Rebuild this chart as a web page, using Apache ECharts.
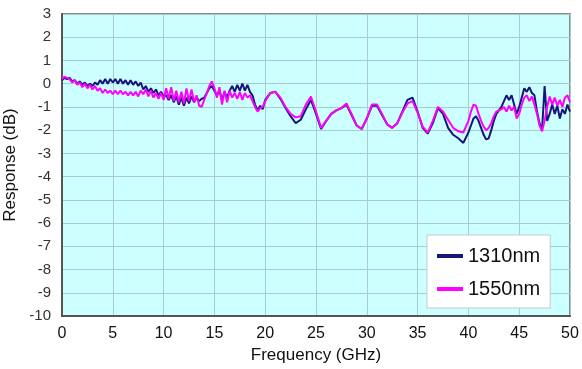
<!DOCTYPE html>
<html>
<head>
<meta charset="utf-8">
<script src="https://cdn.jsdelivr.net/npm/echarts@6/dist/echarts.min.js"></script>
<style>
  html, body { margin: 0; padding: 0; background: #fff; }
  #chart { width: 582px; height: 369px; }
</style>
</head>
<body>
<div id="chart"></div>
<script>
// frequency points (GHz)
const freq = [
  0, 0.25, 0.5, 0.75, 1, 1.25, 1.5, 1.75, 2, 2.25, 2.5, 2.75, 3, 3.25, 3.5, 3.75, 4, 4.25, 4.5, 4.75,
  5, 5.25, 5.5, 5.75, 6, 6.25, 6.5, 6.75, 7, 7.25, 7.5, 7.75, 8, 8.25, 8.5, 8.75, 9, 9.25, 9.5, 9.75,
  10, 10.25, 10.5, 10.75, 11, 11.25, 11.5, 11.75, 12, 12.25, 12.5, 12.75, 13, 13.25, 13.5, 13.75, 14, 14.25, 14.5, 14.75,
  15, 15.25, 15.5, 15.75, 16, 16.25, 16.5, 16.75, 17, 17.25, 17.5, 17.75, 18, 18.25, 18.5, 18.75, 19, 19.25, 19.5, 19.75,
  20, 20.5, 21, 21.5, 22, 22.5, 23, 23.5, 24, 24.5, 25, 25.5, 26, 26.5, 27, 27.5, 28, 28.5, 29, 29.5,
  30, 30.5, 31, 31.5, 32, 32.5, 33, 33.5, 34, 34.5, 35, 35.5, 36, 36.5, 37, 37.5, 38, 38.5, 39, 39.5,
  40, 40.25, 40.5, 40.75, 41, 41.25, 41.5, 41.75, 42, 42.25, 42.5, 42.75, 43, 43.25, 43.5, 43.75, 44, 44.25, 44.5, 44.75,
  45, 45.25, 45.5, 45.75, 46, 46.25, 46.5, 46.75, 47, 47.25, 47.5, 47.75, 48, 48.25, 48.5, 48.75, 49, 49.25, 49.5, 49.75,
  50
];

// response at 1310nm (dB)
const resp1310 = [
  0.15, 0.25, 0.2, 0.25, 0.1, 0.15, 0.0, 0.1, -0.05, 0.05, -0.1, 0.0, -0.1, 0.05, -0.05, 0.15, 0.0, 0.2, 0.0, 0.2,
  0.05, 0.2, 0.0, 0.2, 0.0, 0.15, -0.05, 0.15, -0.05, 0.1, -0.1, 0.05, -0.25, -0.1, -0.35, -0.2, -0.4, -0.25, -0.5, -0.35,
  -0.55, -0.5, -0.7, -0.5, -0.8, -0.55, -0.9, -0.6, -0.95, -0.6, -0.85, -0.55, -0.8, -0.6, -0.75, -0.65, -0.6, -0.4, -0.2, -0.1,
  -0.3, -0.5, -0.3, -0.7, -0.35, -0.6, -0.3, -0.1, -0.35, -0.05, -0.3, 0.0, -0.3, -0.05, -0.35, -0.5, -0.9, -1.15, -0.95, -1.1,
  -0.7, -0.4, -0.35, -0.65, -1.05, -1.4, -1.7, -1.55, -1.1, -0.7, -1.3, -1.95, -1.6, -1.3, -1.15, -1.05, -0.9, -1.35, -1.8, -1.95,
  -1.5, -0.95, -0.95, -1.35, -1.75, -1.9, -1.7, -1.2, -0.7, -0.6, -1.2, -1.9, -2.15, -1.7, -1.05, -1.3, -1.9, -2.2, -2.35, -2.55,
  -2.1, -1.8, -1.5, -1.4, -1.6, -1.9, -2.2, -2.4, -2.35, -2.0, -1.6, -1.3, -1.15, -1.0, -0.75, -0.5, -0.7, -0.5, -0.9, -1.3,
  -1.0, -0.6, -0.2, -0.35, -0.15, -0.4, -0.5, -1.2, -1.7, -2.0, -0.1, -1.6, -1.3, -0.9, -1.3, -0.95, -1.5, -1.1, -1.3, -0.9,
  -1.2
];

// response at 1550nm (dB)
const resp1550 = [
  0.2, 0.3, 0.25, 0.2, 0.05, 0.15, -0.05, 0.05, -0.15, 0.0, -0.2, -0.05, -0.25, -0.1, -0.3, -0.2, -0.4, -0.25, -0.4, -0.3,
  -0.45, -0.3, -0.45, -0.3, -0.45, -0.35, -0.5, -0.35, -0.5, -0.35, -0.55, -0.3, -0.45, -0.25, -0.55, -0.3, -0.6, -0.4, -0.65, -0.4,
  -0.7, -0.2, -0.65, -0.15, -0.75, -0.3, -0.8, -0.35, -0.85, -0.2, -0.75, -0.25, -0.8, -0.5, -0.95, -1.0, -0.7, -0.4, -0.1, 0.1,
  -0.2, -0.6, -0.15, -0.9, -0.3, -0.8, -0.3, -0.6, -0.4, -0.65, -0.35, -0.7, -0.4, -0.6, -0.5, -0.75, -1.0, -1.2, -1.05, -1.0,
  -0.75, -0.4, -0.35, -0.6, -1.0, -1.3, -1.45, -1.4, -0.9, -0.55, -1.2, -1.9, -1.6, -1.3, -1.15, -1.05, -0.85, -1.3, -1.8, -1.95,
  -1.5, -0.9, -0.9, -1.3, -1.75, -1.9, -1.7, -1.25, -0.85, -0.75, -1.25, -1.85, -2.1, -1.6, -1.0, -1.2, -1.55, -1.9, -2.05, -2.1,
  -1.6, -1.2, -0.9, -0.95, -1.3, -1.6, -1.85, -2.0, -1.9, -1.7, -1.4, -1.2, -1.15, -1.1, -1.0, -1.2, -0.95, -1.15, -1.0, -1.5,
  -1.3, -0.9, -0.6, -0.5, -0.75, -0.55, -0.9, -1.3, -1.8, -2.05, -1.6, -1.0, -0.55, -0.9, -0.6, -0.95, -0.7, -1.0, -0.6, -0.5,
  -0.8
];

const seriesNames = ["1310nm", "1550nm"];
const seriesColors = ["#16167a", "#ff00ff"];

const chart = echarts.init(document.getElementById("chart"));

function pairs(values) {
  return freq.map((f, i) => [f, values[i]]);
}

const axisNameStyle = {
  color: "#111",
  fontSize: 17,
  fontFamily: "Liberation Sans, Arial, sans-serif",
};

const option = {
  animation: false,
  backgroundColor: "#fff",
  grid: {
    left: 62,
    right: 12,
    top: 14,
    bottom: 53,
    outerBoundsMode: "none",
    containLabel: false,
    show: true,
    backgroundColor: "#ccffff",
    borderColor: "#8a8a8a",
    borderWidth: 2,
  },
  xAxis: {
    type: "value",
    min: 0,
    max: 50,
    interval: 5,
    name: "Frequency (GHz)",
    nameLocation: "middle",
    nameGap: 30,
    nameTextStyle: axisNameStyle,
    axisLine: { onZero: false, lineStyle: { color: "#555", width: 2 } },
    axisTick: { show: false },
    axisLabel: {
      color: "#111",
      fontSize: 16,
      fontFamily: "Liberation Sans, Arial, sans-serif",
      margin: 10,
    },
    splitLine: { lineStyle: { color: "#a9cccc", width: 1 } },
  },
  yAxis: {
    type: "value",
    min: -10,
    max: 3,
    interval: 1,
    name: "Response (dB)",
    nameLocation: "middle",
    nameGap: 36,
    nameTextStyle: axisNameStyle,
    axisLine: { lineStyle: { color: "#555", width: 2 } },
    axisTick: { show: false },
    axisLabel: {
      color: "#333",
      fontSize: 15,
      fontFamily: "Liberation Sans, Arial, sans-serif",
      margin: 11,
    },
    splitLine: { lineStyle: { color: "#a9cccc", width: 1 } },
  },
  legend: {
    data: seriesNames,
    orient: "vertical",
    left: 427,
    top: 235,
    padding: [11, 10, 9, 10],
    itemGap: 13,
    itemWidth: 26,
    itemHeight: 4,
    icon: "rect",
    backgroundColor: "#fff",
    borderColor: "#c8c8c8",
    borderWidth: 1,
    textStyle: {
      color: "#111",
      fontSize: 20,
      fontFamily: "Liberation Sans, Arial, sans-serif",
    },
  },
  series: [
    {
      name: seriesNames[0],
      type: "line",
      symbol: "none",
      smooth: false,
      lineStyle: { color: seriesColors[0], width: 2 },
      itemStyle: { color: seriesColors[0] },
      data: pairs(resp1310),
    },
    {
      name: seriesNames[1],
      type: "line",
      symbol: "none",
      smooth: false,
      lineStyle: { color: seriesColors[1], width: 2 },
      itemStyle: { color: seriesColors[1] },
      data: pairs(resp1550),
    },
  ],
};

chart.setOption(option);
</script>
</body>
</html>
